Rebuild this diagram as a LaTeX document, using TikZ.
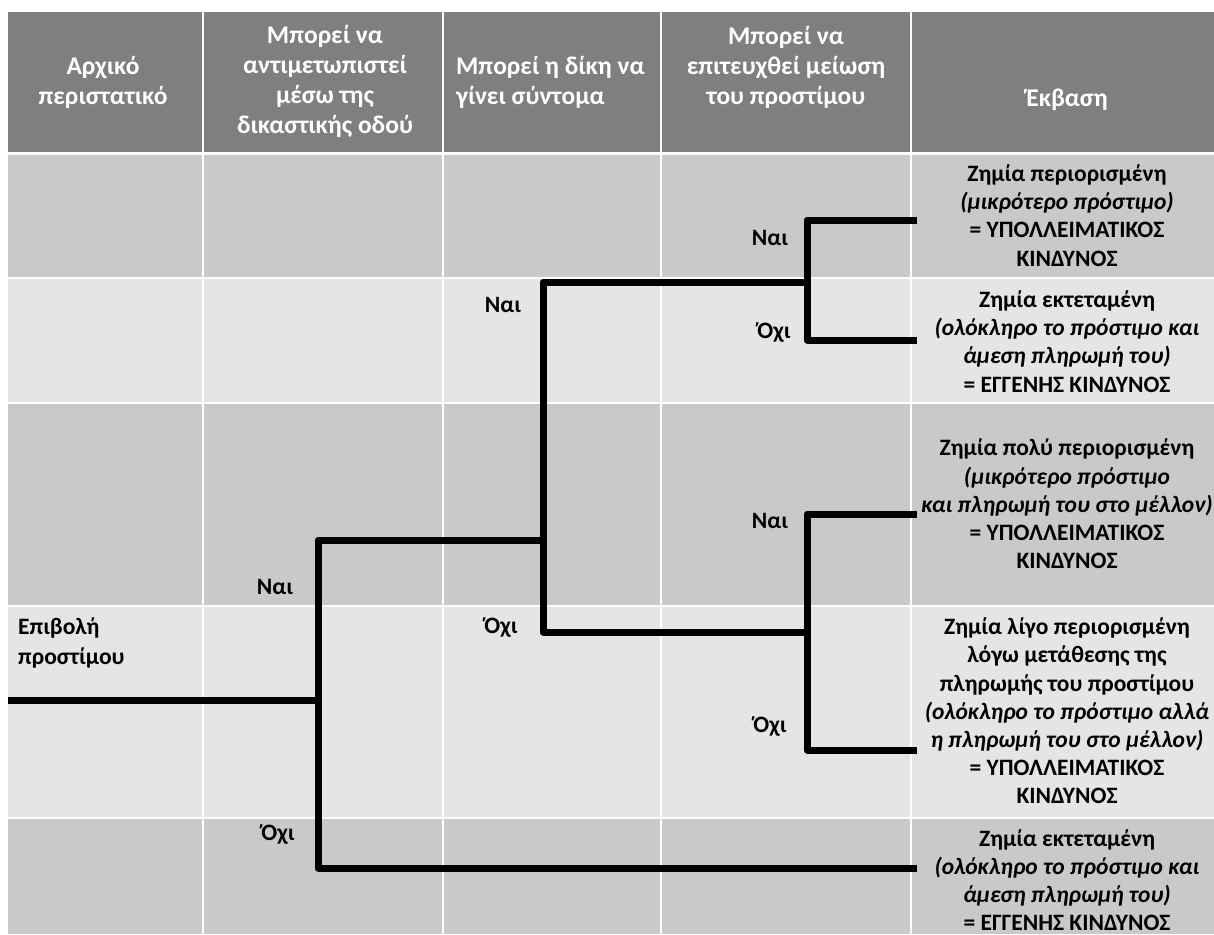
\documentclass[tikz,border=0pt]{standalone}
\usepackage{fontspec}
\setmainfont{Carlito}
\definecolor{hdr}{HTML}{7F7F7F}
\definecolor{darkrow}{HTML}{C9C9C9}
\definecolor{lightrow}{HTML}{E5E5E5}
\begin{document}
\begin{tikzpicture}[x=1pt,y=-1pt,
  branch/.style={line width=7pt, black, line join=round},
  grid/.style={white, line width=2pt},
  lbl/.style={font=\bfseries\fontsize{23.5}{28}\selectfont, inner sep=0pt},
  hd/.style={font=\bfseries\fontsize{25.5}{30}\selectfont, text=white, align=center, inner sep=0pt},
  outc/.style={font=\bfseries\fontsize{23.5}{28.2}\selectfont, align=center, inner sep=0pt}]
\useasboundingbox (0,0) rectangle (1214,934);
\fill[white] (0,0) rectangle (1214,934);
% header and rows
\fill[hdr] (8,12) rectangle (1214,152);
\fill[darkrow] (8,155) rectangle (1214,278);
\fill[lightrow] (8,278) rectangle (1214,403);
\fill[darkrow] (8,403) rectangle (1214,606);
\fill[lightrow] (8,606) rectangle (1214,818);
\fill[darkrow] (8,818) rectangle (1214,934);
% grid lines
\foreach \x in {203,443,661,911} \draw[grid] (\x,12) -- (\x,934);
\foreach \y in {278,403,606,818} \draw[grid] (8,\y) -- (1214,\y);
\draw[white, line width=3pt] (8,153.5) -- (1214,153.5);
% header texts
\node[hd] (h1) at (103,82) {Αρχικό\\περιστατικό};
\node[hd] (h2) at (325,81) {Μπορεί να\\αντιμετωπιστεί\\μέσω της\\δικαστικής οδού};
\node[hd, align=left, anchor=west] (h3) at (456,82) {Μπορεί η δίκη να\\γίνει σύντομα};
\node[hd] (h4) at (786,67) {Μπορεί να\\επιτευχθεί μείωση\\του προστίμου};
\node[hd] (h5) at (1067,100) {Έκβαση};
% start text
\node[lbl, anchor=west, align=left, font=\bfseries\fontsize{23.5}{30}\selectfont] (init) at (18,643) {Επιβολή\\προστίμου};
% tree coordinates
\coordinate (start) at (8,700);
\coordinate (j1) at (318,700);
\coordinate (c1t) at (318,540);
\coordinate (c1b) at (318,868);
\coordinate (j2) at (543,540);
\coordinate (c2t) at (543,282);
\coordinate (c2b) at (543,632);
\coordinate (j3) at (807,282);
\coordinate (j4) at (807,632);
\coordinate (c3t) at (807,220);
\coordinate (c3b) at (807,340);
\coordinate (c4t) at (807,514);
\coordinate (c4b) at (807,750);
\coordinate (e1) at (917,220);
\coordinate (e2) at (917,340);
\coordinate (e3) at (917,514);
\coordinate (e4) at (917,750);
\coordinate (e5) at (917,868);
% branches
\draw[branch] (start) -- (j1);
\draw[branch] (j2) -- (c1t) -- (c1b) -- (e5);
\draw[branch] (j3) -- (c2t) -- (c2b) -- (j4);
\draw[branch] (e1) -- (c3t) -- (c3b) -- (e2);
\draw[branch] (e3) -- (c4t) -- (c4b) -- (e4);
% branch labels
\node[lbl] (y1) at (275,587) {Ναι};
\node[lbl] (n1) at (278,835) {Όχι};
\node[lbl] (y2) at (503,305) {Ναι};
\node[lbl] (n2) at (501,628) {Όχι};
\node[lbl] (y3) at (770,238) {Ναι};
\node[lbl] (n3) at (774,333) {Όχι};
\node[lbl] (y4) at (770,521) {Ναι};
\node[lbl] (n4) at (770,727) {Όχι};
% outcomes
\node[outc] (o1) at (1067,215.5) {Ζημία περιορισμένη\\\textit{(μικρότερο πρόστιμο)}\\= ΥΠΟΛΛΕΙΜΑΤΙΚΟΣ\\ΚΙΝΔΥΝΟΣ};
\node[outc] (o2) at (1067,341.5) {Ζημία εκτεταμένη\\\textit{(ολόκληρο το πρόστιμο και}\\\textit{άμεση πληρωμή του)}\\= ΕΓΓΕΝΗΣ ΚΙΝΔΥΝΟΣ};
\node[outc] (o3) at (1067,504) {Ζημία πολύ περιορισμένη\\\textit{(μικρότερο πρόστιμο}\\\textit{και πληρωμή του στο μέλλον)}\\= ΥΠΟΛΛΕΙΜΑΤΙΚΟΣ\\ΚΙΝΔΥΝΟΣ};
\node[outc] (o4) at (1067,711) {Ζημία λίγο περιορισμένη\\λόγω μετάθεσης της\\πληρωμής του προστίμου\\\textit{(ολόκληρο το πρόστιμο αλλά}\\\textit{η πληρωμή του στο μέλλον)}\\= ΥΠΟΛΛΕΙΜΑΤΙΚΟΣ\\ΚΙΝΔΥΝΟΣ};
\node[outc] (o5) at (1067,880) {Ζημία εκτεταμένη\\\textit{(ολόκληρο το πρόστιμο και}\\\textit{άμεση πληρωμή του)}\\= ΕΓΓΕΝΗΣ ΚΙΝΔΥΝΟΣ};
\end{tikzpicture}
\end{document}
